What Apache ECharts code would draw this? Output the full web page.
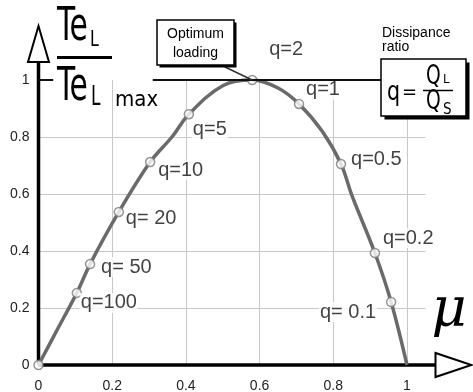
<!DOCTYPE html>
<html>
<head>
<meta charset="utf-8">
<script src="https://cdn.jsdelivr.net/npm/echarts@6/dist/echarts.min.js"></script>
<style>
html, body { margin: 0; padding: 0; background: #fff; }
#chart { width: 473px; height: 392px; }
</style>
</head>
<body>
<div id="chart"></div>
<script>
// curve (mu -> Te_L / Te_L max)
const muCurve  = [0, 0.05, 0.104, 0.14, 0.218, 0.303, 0.362, 0.408, 0.5, 0.58, 0.65, 0.707, 0.77, 0.821, 0.851, 0.913, 0.957, 1];
const effCurve = [0, 0.122, 0.253, 0.354, 0.537, 0.712, 0.8, 0.88, 0.98, 1, 0.972, 0.916, 0.82, 0.705, 0.593, 0.393, 0.221, 0];

// marked points on the curve
const qNames = ['q=100', 'q= 50', 'q= 20', 'q=10', 'q=5', 'q=2', 'q=1', 'q=0.5', 'q=0.2', 'q= 0.1'];
const qMu    = [0.104, 0.14, 0.218, 0.303, 0.408, 0.58, 0.707, 0.821, 0.913, 0.957];
const qEff   = [0.253, 0.354, 0.537, 0.712, 0.88, 1, 0.916, 0.705, 0.393, 0.221];

const xTickLabels = ['0', '0.2', '0.4', '0.6', '0.8', '1'];
const yTickLabels = ['0', '0.2', '0.4', '0.6', '0.8', '1'];

// dark line at Te_L/Te_L max = 1 (mu ranges)
const unitySegments = [[0, 0.04], [0.31, 0.93]];

// where each q label sits, px from the marker centre
const qLabelPos = [
    [3, 10, 'left'], [10, 3, 'left'], [6, 7, 'left'], [7, 8, 'left'], [3, 15, 'left'],
    [16, -31, 'left'], [6, -14, 'left'], [9, -5, 'left'], [7, -15, 'left'], [-14, 10, 'right']
];

const FONT = "'Liberation Sans', Arial, sans-serif";
const NARROW = "'Liberation Sans Narrow', 'DejaVu Sans Condensed', sans-serif";

let chart = echarts.init(document.getElementById('chart'), null, { renderer: 'canvas' });

let curveData = muCurve.map((m, i) => [m, effCurve[i]]);
let pointData = [{ value: [0, 0], label: { show: false } }];
qMu.forEach((m, i) => {
    let p = qLabelPos[i];
    pointData.push({
        value: [m, qEff[i]],
        name: qNames[i],
        label: { show: true, offset: [p[0], p[1]], align: p[2] }
    });
});

let option = {
    animation: false,
    backgroundColor: '#fff',
    grid: { left: 38.5, right: 47.6, top: 80, bottom: 27, containLabel: false, outerBoundsMode: 'none' },
    xAxis: {
        type: 'value', min: 0, max: 1.05, interval: 0.2,
        axisLine: { show: false }, axisTick: { show: false },
        axisLabel: {
            margin: 14, color: '#222', fontSize: 14, fontFamily: FONT, showMaxLabel: false,
            formatter: v => v > 1.001 ? '' : xTickLabels[Math.round(v / 0.2)]
        },
        splitLine: { show: true, showMinLine: false, showMaxLine: false, lineStyle: { color: '#c8c8c8', width: 1 } }
    },
    yAxis: {
        type: 'value', min: 0, max: 1, interval: 0.2,
        axisLine: { show: false }, axisTick: { show: false },
        axisLabel: {
            margin: 9, color: '#222', fontSize: 14, fontFamily: FONT,
            formatter: v => yTickLabels[Math.round(v / 0.2)]
        },
        splitLine: { show: true, showMinLine: false, showMaxLine: false, lineStyle: { color: '#c8c8c8', width: 1 } }
    },
    series: [
        {
            type: 'line', data: curveData, smooth: 0.35, clip: false, symbol: 'none', z: 3,
            lineStyle: { color: '#6a6a6a', width: 3.5 },
            markLine: {
                silent: true, symbol: 'none', label: { show: false },
                lineStyle: { color: '#111', width: 2, type: 'solid' },
                data: unitySegments.map(s => [{ coord: [s[0], 1] }, { coord: [s[1], 1] }])
            }
        },
        {
            type: 'scatter', data: pointData, clip: false, z: 4,
            symbol: 'circle', symbolSize: 9,
            itemStyle: { color: '#fff', borderColor: '#7a7a7a', borderWidth: 1.5 },
            label: {
                show: true, position: 'inside', formatter: '{b}',
                color: '#111', fontSize: 20, fontFamily: FONT, verticalAlign: 'middle',
                backgroundColor: '#fff', padding: [0, 1]
            }
        }
    ]
};
chart.setOption(option);

// decorations: arrows, fraction title, boxes
let p0 = chart.convertToPixel({ gridIndex: 0 }, [0, 0]);
let pk = chart.convertToPixel({ gridIndex: 0 }, [qMu[5], qEff[5]]);

function txt(x, y, text, size, family, extra) {
    return Object.assign({
        type: 'text', x: x, y: y, z: 20,
        style: { text: text, fontSize: size, fontFamily: family, fill: '#000', align: 'left', verticalAlign: 'middle' }
    }, extra || {});
}

let graphics = [
    // axis lines
    { type: 'line', z: 1, shape: { x1: p0[0], y1: p0[1], x2: p0[0], y2: p0[1] - 303 }, style: { stroke: '#000', lineWidth: 3.5 } },
    { type: 'line', z: 1, shape: { x1: p0[0], y1: p0[1], x2: p0[0] + 397, y2: p0[1] }, style: { stroke: '#000', lineWidth: 3.5 } },
    // open arrow heads
    { type: 'polygon', z: 5, shape: { points: [[p0[0] - 10.5, p0[1] - 303], [p0[0] + 10.5, p0[1] - 303], [p0[0], p0[1] - 339]] }, style: { fill: '#fff', stroke: '#000', lineWidth: 2 } },
    { type: 'polygon', z: 5, shape: { points: [[p0[0] + 397, p0[1] - 12], [p0[0] + 397, p0[1] + 12], [p0[0] + 433, p0[1]]] }, style: { fill: '#fff', stroke: '#000', lineWidth: 2 } },

    // Te_L / Te_L max
    txt(57, 28, 'Te', 46, NARROW, { scaleX: 0.72 }),
    txt(90, 40, 'L', 22, NARROW, { scaleX: 0.8 }),
    { type: 'line', z: 20, shape: { x1: 57, y1: 57.5, x2: 112, y2: 57.5 }, style: { stroke: '#000', lineWidth: 3 } },
    txt(57, 88, 'Te', 46, NARROW, { scaleX: 0.72 }),
    txt(91, 98, 'L', 27, NARROW, { scaleX: 0.7 }),
    txt(115, 100, 'max', 22, NARROW),

    // Optimum loading box + leader
    { type: 'line', z: 18, shape: { x1: 225, y1: 67, x2: pk[0], y2: pk[1] }, style: { stroke: '#333', lineWidth: 1.5 } },
    { type: 'rect', z: 19, shape: { x: 159.5, y: 22.5, width: 77, height: 45 }, style: { fill: '#000' } },
    { type: 'rect', z: 20, shape: { x: 157, y: 20, width: 77, height: 45 }, style: { fill: '#fff', stroke: '#000', lineWidth: 1.5 } },
    txt(195.5, 34, 'Optimum', 14, FONT, { style: { text: 'Optimum', fontSize: 14, fontFamily: FONT, fill: '#000', align: 'center', verticalAlign: 'middle' } }),
    txt(195.5, 53, 'loading', 14, FONT, { style: { text: 'loading', fontSize: 14, fontFamily: FONT, fill: '#000', align: 'center', verticalAlign: 'middle' } }),

    // dissipance ratio box
    txt(382, 33, 'Dissipance', 14, FONT),
    txt(382, 47, 'ratio', 14, FONT),
    { type: 'rect', z: 19, shape: { x: 384.5, y: 62.5, width: 85, height: 57 }, style: { fill: '#000' } },
    { type: 'rect', z: 20, shape: { x: 381, y: 59, width: 85, height: 57 }, style: { fill: '#fff', stroke: '#000', lineWidth: 1.5 } },
    txt(387, 93, 'q', 27, NARROW, { scaleX: 0.85 }),
    txt(402, 93, '=', 20, NARROW),
    { type: 'line', z: 21, shape: { x1: 423, y1: 90.5, x2: 453, y2: 90.5 }, style: { stroke: '#000', lineWidth: 1.5 } },
    txt(426, 77, 'Q', 26, NARROW, { scaleX: 0.8 }),
    txt(443, 80, 'L', 13, NARROW),
    txt(426, 102, 'Q', 26, NARROW, { scaleX: 0.8 }),
    txt(443, 110, 'S', 15, NARROW),

    // mu axis symbol
    txt(449, 312, 'μ', 54, "'DejaVu Serif', serif", { style: { text: 'μ', fontSize: 54, fontFamily: "'DejaVu Serif', serif", fontStyle: 'italic', fill: '#000', align: 'center', verticalAlign: 'middle' } })
];
chart.setOption({ graphic: graphics });
</script>
</body>
</html>
